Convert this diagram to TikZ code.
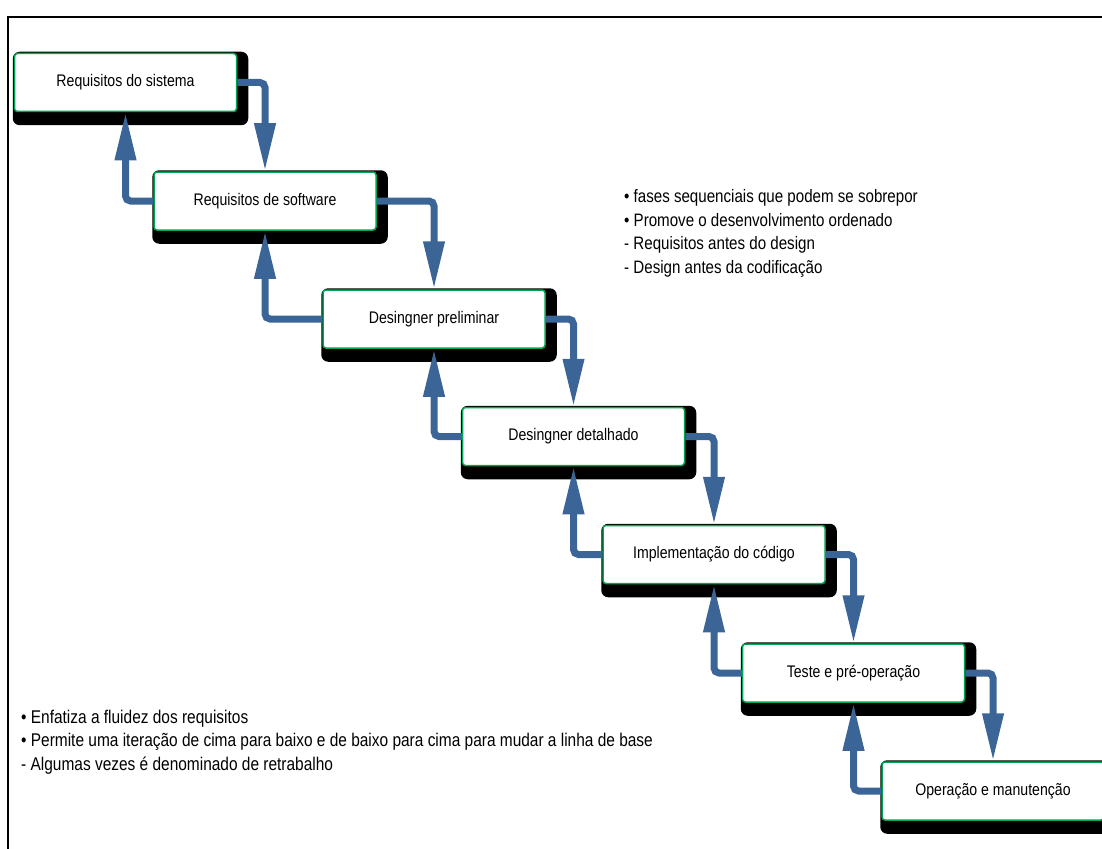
\documentclass[tikz,border=0pt]{standalone}
\usepackage{fontspec}
\setmainfont{Liberation Sans}[FakeStretch=0.84]
\usetikzlibrary{arrows.meta, positioning, backgrounds}
\definecolor{flowblue}{HTML}{3A6596}
\definecolor{boxgreen}{HTML}{00A651}
\tikzset{
    phasebox/.style={
        draw=boxgreen,
        line width=1.5pt,
        fill=white,
        rounded corners=3pt,
        minimum width=222pt,
        minimum height=58pt,
        inner sep=0pt,
        font=\fontsize{16.8}{19}\selectfont
    },
    boxshadow/.style={fill=black, rounded corners=7pt},
    flow/.style={-{Triangle[length=48pt, width=20pt]}, line width=7pt, draw=flowblue, rounded corners=5pt},
    flowback/.style={flow},
    notes/.style={align=left, anchor=base west, inner sep=0pt, font=\fontsize{18}{23.5}\selectfont}
}

\begin{document}
\begin{tikzpicture}[x=1pt, y=-1pt]
    \useasboundingbox (0,0) rectangle (1102,848);
    \clip (0,0) rectangle (1102,848);
    \draw[line width=1.5pt] (1110,17) -- (8,17) -- (8,860);

    \node[phasebox] (sysreq) at (125.5,82.5) {Requisitos do sistema};
    \node[phasebox] (softreq) at (265,201) {Requisitos de software};
    \node[phasebox] (prelim) at (434,319) {Desingner preliminar};
    \node[phasebox] (detail) at (573.5,436.5) {Desingner detalhado};
    \node[phasebox] (code) at (714,554.5) {Implementação do código};
    \node[phasebox] (test) at (853.5,673) {Teste e pré-operação};
    \node[phasebox] (oper) at (993,791) {Operação e manutenção};

    % shadows behind the boxes
    \begin{scope}[on background layer]
        \foreach \n in {sysreq, softreq, prelim, detail, code, test, oper}
            \fill[boxshadow] ([shift={(-1,-1)}]\n.north west) rectangle ([shift={(11,13)}]\n.south east);
    \end{scope}

    \draw[flow] (sysreq.east) -| (softreq.north);
    \draw[flow] (softreq.east) -| (prelim.north);
    \draw[flow] (prelim.east) -| (detail.north);
    \draw[flow] (detail.east) -| (code.north);
    \draw[flow] (code.east) -| (test.north);
    \draw[flow] (test.east) -| (oper.north);

    \draw[flowback] (softreq.west) -| (sysreq.south);
    \draw[flowback] (prelim.west) -| (softreq.south);
    \draw[flowback] (detail.west) -| (prelim.south);
    \draw[flowback] (code.west) -| (detail.south);
    \draw[flowback] (test.west) -| (code.south);
    \draw[flowback] (oper.west) -| (test.south);

    \node[notes] (seqnotes) at (624,273) {• fases sequenciais que podem se sobrepor\\
        • Promove o desenvolvimento ordenado\\
        - Requisitos antes do design\\
        - Design antes da codificação};
    \node[notes, font=\fontsize{18.4}{23.5}\selectfont] (iternotes) at (21,770) {• Enfatiza a fluidez dos requisitos\\
        • Permite uma iteração de cima para baixo e de baixo para cima para mudar a linha de base\\
        - Algumas vezes é denominado de retrabalho};
\end{tikzpicture}
\end{document}
